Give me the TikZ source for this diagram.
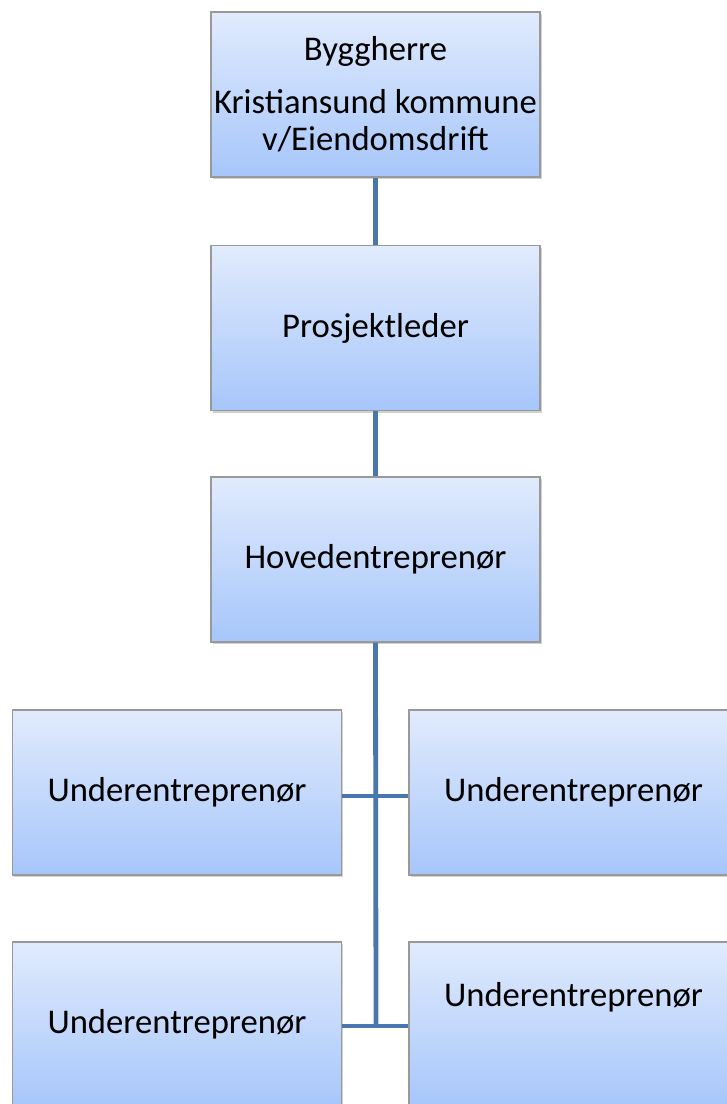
\documentclass[tikz,border=0pt]{standalone}
\usepackage{fontspec}
\setmainfont{Carlito}
\usetikzlibrary{shadows}
\definecolor{boxtop}{RGB}{225,235,253}
\definecolor{boxbot}{RGB}{166,198,250}
\definecolor{linkblue}{RGB}{74,118,176}
\tikzset{
    orgfont/.style={font=\fontsize{26}{27.75}\selectfont},
    orgbox/.style={draw=gray!80,line width=0.8pt,top color=boxtop,bottom color=boxbot,
        minimum width=246.75pt,minimum height=123.75pt,align=center,inner sep=0pt,orgfont,
        drop shadow={shadow xshift=1.2pt,shadow yshift=-1.5pt,fill=gray!60,opacity=0.6}},
    link/.style={linkblue,line width=3.6pt}
}
\begin{document}
\begin{tikzpicture}[x=0.75pt,y=-0.75pt]
        \useasboundingbox (0,0) rectangle (727,1104);
        \node[orgbox] (byggherre) at (375.5,94.5) {Byggherre\\[12pt]Kristiansund kommune\\v/Eiendomsdrift};
        \node[orgbox] (prosjektleder) at (375.5,328) {Prosjektleder};
        \node[orgbox] (hovedentr) at (375.5,559.5) {Hovedentreprenør};
        \node[orgbox] (under1) at (177,792.5) {Underentreprenør};
        \node[orgbox] (under2) at (573.5,792.5) {Underentreprenør};
        \node[orgbox] (under3) at (177,1024.5) {Underentreprenør};
        \node[orgbox] (under4) at (573.5,1024.5) {};
        \node[orgfont] (under4text) at ([yshift=-42pt]under4.north) {Underentreprenør};
        \coordinate (foot) at (376,1026);
        % connectors
        \draw[link] (byggherre.south) -- (prosjektleder.north);
        \draw[link] (prosjektleder.south) -- (hovedentr.north);
        \draw[link] (hovedentr.south) -- (foot);
        \draw[link] (under1.east |- 0,796) -- (under2.west |- 0,796);
        \draw[link] (under3.east |- foot) -- (under4.west |- foot);
    \end{tikzpicture}
\end{document}
